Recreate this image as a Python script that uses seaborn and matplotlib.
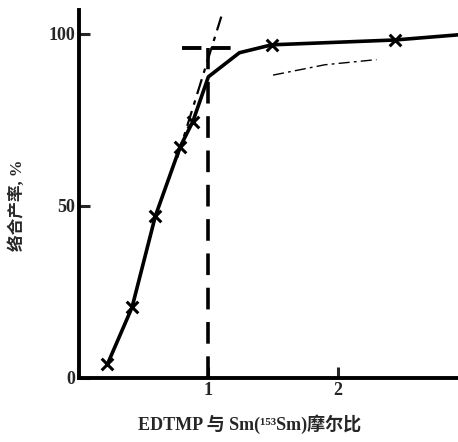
import numpy as np
import pandas as pd
import matplotlib
matplotlib.use("Agg")
import matplotlib.pyplot as plt
import seaborn as sns

# -----------------------------
# Data
# -----------------------------
molar_ratio = [0.22, 0.41, 0.59, 0.78, 0.88, 1.00, 1.24, 1.49, 2.44, 2.93]
yield_pct = [4.0, 20.5, 47.0, 67.0, 74.5, 87.5, 94.5, 96.8, 98.2, 99.7]
marker_mask = [True, True, True, True, True, False, False, True, True, False]

extrap_x = [0.76, 1.10]
extrap_y = [64.0, 105.0]
plateau_x = [0.80, 1.24]
plateau_y = [96.0, 96.0]
equiv_x = [1.0, 1.0]
equiv_y = [0.0, 96.0]
lower_x = [1.50, 1.90, 2.30]
lower_y = [88.0, 91.0, 92.5]

x_ticks = [1, 2]
y_ticks = [0, 50, 100]

df = pd.DataFrame({"ratio": molar_ratio, "yield": yield_pct})
pts = df[marker_mask]

sns.set_style("ticks")
plt.rcParams["font.family"] = ["Liberation Serif", "Noto Sans CJK SC"]

fig = plt.figure(figsize=(4.58, 4.42), dpi=100)
ax = fig.add_axes([0.1725, 0.145, 0.8275, 0.833])

sns.lineplot(data=df, x="ratio", y="yield", ax=ax, color="black", lw=2.6,
             sort=False, estimator=None)
sns.scatterplot(data=pts, x="ratio", y="yield", ax=ax, marker="x", s=70,
                color="black", linewidth=2.2, zorder=5)

ax.plot(extrap_x, extrap_y, color="black", lw=1.6, ls=(0, (7, 3, 2, 3)))
ax.plot(plateau_x, plateau_y, color="black", lw=2.8, ls=(0, (5, 2.5)))
ax.plot(equiv_x, equiv_y, color="black", lw=2.6, ls=(0, (6, 3.5)))
ax.plot(lower_x, lower_y, color="black", lw=1.0, ls=(0, (8, 3, 2, 3)))

ax.set_xlim(0, 2.93)
ax.set_ylim(0, 107)
ax.set_xticks(x_ticks)
ax.set_yticks(y_ticks)
ax.set_xticklabels([str(t) for t in x_ticks], fontweight="bold", fontsize=13)
ax.set_yticklabels([str(t) for t in y_ticks], fontweight="bold", fontsize=13)
ax.tick_params(direction="in", length=8, width=2.2, pad=3)

sns.despine(ax=ax, top=True, right=True)
for side in ["left", "bottom"]:
    ax.spines[side].set_linewidth(2.8)
    ax.spines[side].set_color("black")

ax.set_xlabel("EDTMP 与 Sm(¹⁵³Sm)摩尔比", fontsize=13, fontweight="bold")
ax.set_ylabel("络合产率, %", fontsize=12, fontweight="bold")
ax.xaxis.set_label_coords(0.45, -0.1)
ax.yaxis.set_label_coords(-0.14, 0.47)

fig.savefig("out.png", dpi=100)
